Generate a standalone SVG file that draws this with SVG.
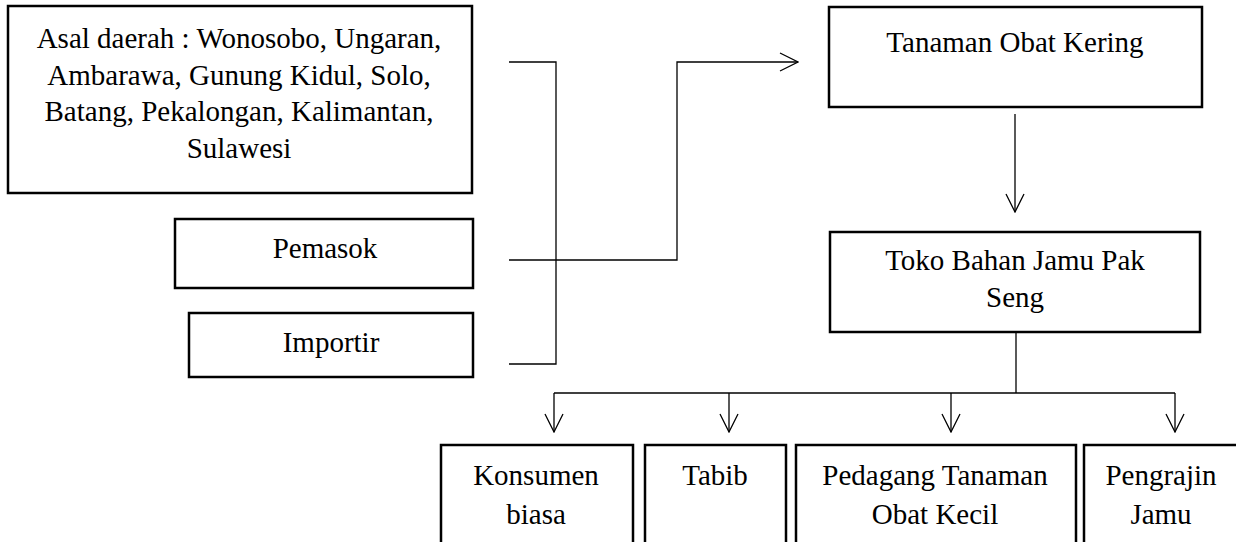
<svg xmlns="http://www.w3.org/2000/svg" width="1236" height="542" viewBox="0 0 1236 542">
<style>
.box{fill:#fff;stroke:#000;stroke-width:2.5}
.ln{fill:none;stroke:#000;stroke-width:1.3}
text{font-family:"Liberation Serif","Times New Roman",serif;font-size:29px;fill:#000;text-anchor:middle}
</style>
<defs>
<marker id="ah" markerUnits="userSpaceOnUse" viewBox="0 0 20 20" markerWidth="20" markerHeight="20" refX="19" refY="10" orient="auto">
<path d="M1,1 L19,10 L1,19" fill="none" stroke="#000" stroke-width="1.3"/>
</marker>
</defs>
<g id="asal"><rect class="box" x="8" y="6" width="464" height="187"/>
<text x="239" y="48">Asal daerah : Wonosobo, Ungaran,</text>
<text x="239" y="85">Ambarawa, Gunung Kidul, Solo,</text>
<text x="239" y="121">Batang, Pekalongan, Kalimantan,</text>
<text x="239" y="158">Sulawesi</text></g>
<g id="pemasok"><rect class="box" x="175" y="219" width="298" height="69"/>
<text x="325" y="258">Pemasok</text></g>
<g id="importir"><rect class="box" x="189" y="313" width="284" height="64"/>
<text x="331" y="352">Importir</text></g>
<g id="tanaman"><rect class="box" x="829" y="7" width="373" height="100"/>
<text x="1015" y="52">Tanaman Obat Kering</text></g>
<g id="toko"><rect class="box" x="830" y="232" width="370" height="100"/>
<text x="1015" y="270">Toko Bahan Jamu Pak</text>
<text x="1015" y="307">Seng</text></g>
<g id="konsumen"><rect class="box" x="441" y="445" width="192" height="120"/>
<text x="536" y="485">Konsumen</text><text x="536" y="524">biasa</text></g>
<g id="tabib"><rect class="box" x="645" y="445" width="141" height="120"/>
<text x="715" y="485">Tabib</text></g>
<g id="pedagang"><rect class="box" x="796" y="445" width="280" height="120"/>
<text x="935" y="485">Pedagang Tanaman</text><text x="935" y="524">Obat Kecil</text></g>
<g id="pengrajin"><rect class="box" x="1084" y="445" width="160" height="120"/>
<text x="1161" y="485">Pengrajin</text><text x="1161" y="524">Jamu</text></g>
<g id="connectors">
<polyline class="ln" points="509,62 556,62 556,364 509,364"/>
<line class="ln" x1="509" y1="260" x2="556" y2="260"/>
<polyline class="ln" points="556,260 677,260 677,62 798,62" marker-end="url(#ah)"/>
<line class="ln" x1="1015" y1="114" x2="1015" y2="212" marker-end="url(#ah)"/>
<line class="ln" x1="1016" y1="332" x2="1016" y2="393"/>
<line class="ln" x1="554" y1="393" x2="1175" y2="393"/>
<line class="ln" x1="554" y1="393" x2="554" y2="432" marker-end="url(#ah)"/>
<line class="ln" x1="729" y1="393" x2="729" y2="432" marker-end="url(#ah)"/>
<line class="ln" x1="951" y1="393" x2="951" y2="432" marker-end="url(#ah)"/>
<line class="ln" x1="1175" y1="393" x2="1175" y2="432" marker-end="url(#ah)"/>
</g>
</svg>
